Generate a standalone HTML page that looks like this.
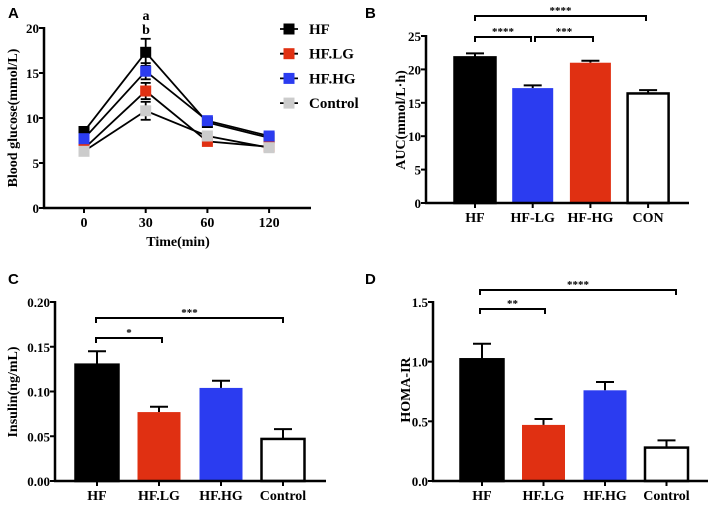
<!DOCTYPE html>
<html><head><meta charset="utf-8"><style>
html,body{margin:0;padding:0;background:#fff;width:714px;height:508px;overflow:hidden}
svg{display:block}
text{font-family:"Liberation Serif",serif;font-weight:bold;fill:#000}
.pl{font-family:"Liberation Sans",sans-serif;font-size:15px}
</style></head><body>
<svg id="fig" width="714" height="508" viewBox="0 0 714 508"></svg>
<script>
// Panel A data
const timeLabels=["0","30","60","120"];
const seriesNames=["HF","HF.LG","HF.HG","Control"];
const hfGlu=[8.5,17.3,9.5,7.8];
const lgGlu=[6.6,13.0,7.4,6.8];
const hgGlu=[7.7,15.2,9.7,8.0];
const conGlu=[6.3,10.8,8.0,6.7];
const hfGluErr=[0.3,1.5,0.4,0.3];
const lgGluErr=[0.3,0.9,0.3,0.3];
const hgGluErr=[0.4,0.9,0.4,0.3];
const conGluErr=[0.3,1.0,0.3,0.3];
const gluTicks=[0,5,10,15,20];
// Panel B data
const aucCats=["HF","HF-LG","HF-HG","CON"];
const aucVals=[21.8,17.2,21.0,16.4];
const aucErr=[0.6,0.4,0.3,0.5];
const aucTicks=[0,5,10,15,20,25];
// Panel C data
const insCats=["HF","HF.LG","HF.HG","Control"];
const insVals=[0.130,0.077,0.104,0.047];
const insErr=[0.015,0.006,0.008,0.011];
const insTicks=["0.00","0.05","0.10","0.15","0.20"];
// Panel D data
const homaCats=["HF","HF.LG","HF.HG","Control"];
const homaVals=[1.02,0.47,0.76,0.28];
const homaErr=[0.13,0.05,0.07,0.06];
const homaTicks=["0.0","0.5","1.0","1.5"];

const svg=document.getElementById('fig');
const NS='http://www.w3.org/2000/svg';
function mk(tag,attrs,name,parent){const e=document.createElementNS(NS,tag);for(const k in attrs)e.setAttribute(k,attrs[k]);


(parent||svg).appendChild(e);return e;}
function txt(x,y,s,name,size,anchor,extra){const t=mk('text',Object.assign({x:x,y:y,'font-size':size||13,'text-anchor':anchor||'middle'},extra||{}),name);t.textContent=s;return t;}
function line(x1,y1,x2,y2,name,w){return mk('line',{x1,y1,x2,y2,stroke:'#000','stroke-width':w||2},name);}
function yAxis(ax,y0,y1,ticks,vmax,scale,name){line(ax,y0,ax,y1-1,name+'-y-axis',2.5);
 ticks.forEach(t=>{const v=parseFloat(t);const y=scale(v);line(ax-5,y,ax,y,name+'-y-tick');txt(ax-5,y+5,String(t),name+'-y-tick-label',13,'end');});}
function bracket(x1,x2,y,label,name){mk('path',{d:`M${x1},${y+5}V${y}H${x2}V${y+5}`,fill:'none',stroke:'#000','stroke-width':2},name+'-bracket');
 txt((x1+x2)/2,y-2,label,name+'-stars',11);}
function barPanel(p){
 const sy=v=>p.y0-(v/p.vmax)*(p.y0-p.ytop);
 p.vals.forEach((v,i)=>{const cx=p.x0c+i*p.step,w=p.bw;
  const yt=sy(v),ye=sy(v+p.err[i]);
  line(cx,ye,cx,yt,p.name+'-error-bar');line(cx-9,ye,cx+9,ye,p.name+'-error-cap');
  mk('rect',{x:cx-w/2,y:yt,width:w,height:p.y0-yt,fill:p.colors[i],stroke:'#000','stroke-width':p.colors[i]=='#000'||p.colors[i]=='#fff'?2.5:0},p.name+'-bar-'+p.cats[i].toLowerCase());
  line(cx,p.y0,cx,p.y0+5,p.name+'-x-tick');
  txt(cx,p.y0+19,p.cats[i],p.name+'-x-label',14);
 });
 line(p.ax-1,p.y0,p.xend,p.y0,p.name+'-x-axis',2.5);
 yAxis(p.ax,p.y0,p.ytop,p.ticks,p.vmax,sy,p.name);
 txt(p.ylx,p.yly,p.ylabel,p.name+'-y-axis-title',14,'middle',{transform:`rotate(-90 ${p.ylx} ${p.yly})`});
 return sy;
}
// ---- Panel A ----
txt(8,18,'A','panel-a-letter',15,'start',{class:'pl'});
const axA=44,y0A=208,ytA=28;
const syA=v=>y0A-(v/20)*(y0A-ytA);
const sxA=i=>84+i*61.7;
line(axA-1,y0A,311,y0A,'panel-a-x-axis',2.5);
yAxis(axA,y0A,ytA,gluTicks,20,syA,'panel-a');
timeLabels.forEach((l,i)=>{line(sxA(i),y0A,sxA(i),y0A+5,'panel-a-x-tick');txt(sxA(i),y0A+19,l,'panel-a-x-label',14);});
txt(178,246,'Time(min)','panel-a-x-axis-title',14);
txt(17,118,'Blood glucose(mmol/L)','panel-a-y-axis-title',14,'middle',{transform:'rotate(-90 17 118)'});
const colsA=['#000','#e03012','#2b3cf0','#ccc'];
[[hfGlu,hfGluErr],[lgGlu,lgGluErr],[hgGlu,hgGluErr],[conGlu,conGluErr]].forEach((s,k)=>{
 const pts=s[0].map((v,i)=>sxA(i)+','+syA(v)).join(' ');
 mk('polyline',{points:pts,fill:'none',stroke:'#000','stroke-width':1.8},'line-'+seriesNames[k].toLowerCase());
 s[0].forEach((v,i)=>{const x=sxA(i);line(x,syA(v-s[1][i]),x,syA(v+s[1][i]),'error-bar-'+seriesNames[k].toLowerCase(),1.8);
  line(x-5,syA(v+s[1][i]),x+5,syA(v+s[1][i]),'error-cap',1.8);line(x-5,syA(v-s[1][i]),x+5,syA(v-s[1][i]),'error-cap',1.8);});
});
[[hfGlu],[lgGlu],[hgGlu],[conGlu]].forEach((s,k)=>{s[0].forEach((v,i)=>{mk('rect',{x:sxA(i)-5.5,y:syA(v)-5.5,width:11,height:11,fill:colsA[k]},'point-'+seriesNames[k].toLowerCase());});});
txt(146,20,'a','sig-a',14,'middle',{'font-weight':'normal'});
txt(146,34,'b','sig-b',14,'middle',{'font-weight':'normal'});
seriesNames.forEach((n,k)=>{const y=29+k*24.7;
 line(280,y,298,y,'legend-line-'+k,1.8);
 mk('rect',{x:283.5,y:y-5.5,width:11,height:11,fill:colsA[k]},'legend-marker-'+n.toLowerCase());
 txt(309,y+5,n,'legend-entry-'+n.toLowerCase(),15,'start',{'font-weight':'normal'});});
// ---- Panel B ----
txt(365,18,'B','panel-b-letter',15,'start',{class:'pl'});
barPanel({name:'panel-b',vals:aucVals,err:aucErr,cats:aucCats,colors:['#000','#2b3cf0','#e03012','#fff'],
 x0c:475,step:57.7,bw:41,y0:203,ytop:36,vmax:25,ax:426,xend:689,ticks:aucTicks,ylabel:'AUC(mmol/L·h)',ylx:405,yly:120});
bracket(475,646,16,'****','panel-b-hf-con');
bracket(475,531,37,'****','panel-b-hf-lg');
bracket(535,593,37,'***','panel-b-lg-hg');
// ---- Panel C ----
txt(8,284,'C','panel-c-letter',15,'start',{class:'pl'});
barPanel({name:'panel-c',vals:insVals,err:insErr,cats:insCats,colors:['#000','#e03012','#2b3cf0','#fff'],
 x0c:97,step:62,bw:43,y0:481,ytop:302,vmax:0.20,ax:55,xend:326,ticks:insTicks,ylabel:'Insulin(ng/mL)',ylx:17,yly:392});
bracket(96,283,318,'***','panel-c-hf-con');
bracket(96,162,338,'*','panel-c-hf-lg');
// ---- Panel D ----
txt(365,284,'D','panel-d-letter',15,'start',{class:'pl'});
barPanel({name:'panel-d',vals:homaVals,err:homaErr,cats:homaCats,colors:['#000','#e03012','#2b3cf0','#fff'],
 x0c:482,step:61.5,bw:43,y0:481,ytop:302,vmax:1.5,ax:433,xend:708,ticks:homaTicks,ylabel:'HOMA-IR',ylx:410,yly:390});
bracket(480,676,290,'****','panel-d-hf-con');
bracket(480,545,309,'**','panel-d-hf-lg');
</script>
</body></html>
